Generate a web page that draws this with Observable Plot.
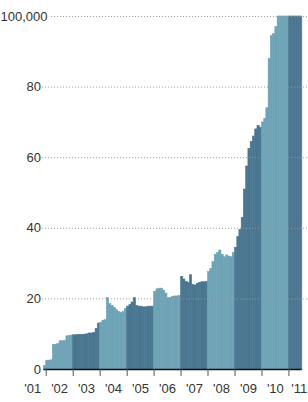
<!DOCTYPE html>
<html>
<head>
<meta charset="utf-8">
<script src="https://cdn.jsdelivr.net/npm/d3@7"></script>
<script src="https://cdn.jsdelivr.net/npm/@observablehq/plot@0.6"></script>
<style>
  html, body { margin: 0; padding: 0; background: #fff; }
  #chart svg { display: block; }
</style>
</head>
<body>
<div id="chart"></div>
<script>
// Monthly troop levels (thousands), starting December 2001
const firstMonth = "2001-12";
const troops2001 = [1.0];
const troops2002 = [2.5, 2.5, 2.6, 7.0, 7.0, 7.2, 8.0, 8.0, 8.1, 9.4, 9.5, 9.6];
const troops2003 = [9.7, 9.7, 9.8, 9.8, 9.8, 9.9, 10.0, 10.2, 10.2, 10.4, 11.5, 13.0];
const troops2004 = [13.2, 13.8, 14.0, 20.2, 18.5, 18.0, 17.5, 16.8, 16.3, 16.0, 16.3, 17.2];
const troops2005 = [17.8, 18.3, 19.0, 20.2, 18.0, 17.8, 17.8, 17.6, 17.6, 17.8, 17.8, 17.8];
const troops2006 = [22.0, 22.7, 22.9, 22.9, 22.3, 21.5, 20.2, 20.3, 20.6, 20.7, 20.7, 20.8];
const troops2007 = [26.2, 25.5, 24.8, 24.5, 26.7, 24.0, 23.8, 24.3, 24.5, 24.7, 24.7, 24.8];
const troops2008 = [27.6, 28.5, 30.4, 32.5, 33.0, 33.7, 32.5, 31.8, 32.3, 32.0, 31.8, 33.0];
const troops2009 = [34.5, 37.5, 39.5, 43.0, 51.0, 57.5, 62.5, 64.5, 66.0, 68.0, 69.0, 68.5];
const troops2010 = [70.0, 71.0, 74.0, 88.0, 94.5, 95.0, 97.0, 100, 100, 100, 100, 100];
const troops2011 = [100, 100, 100, 100, 100, 100];

const yTickValues = [0, 20, 40, 60, 80, 100];
const yTickLabels = ["0", "20", "40", "60", "80", "100,000"];
const yearStarts = [2002, 2003, 2004, 2005, 2006, 2007, 2008, 2009, 2010, 2011];
const yearLabelYears = [2001, 2002, 2003, 2004, 2005, 2006, 2007, 2008, 2009, 2010];
const yearLabels = ["'01", "'02", "'03", "'04", "'05", "'06", "'07", "'08", "'09", "'10"];
const lastYearLabel = ["'11"];

const lightBlue = "#6ea3b6";
const darkBlue = "#4a7690";

const values = [].concat(troops2001, troops2002, troops2003, troops2004, troops2005,
  troops2006, troops2007, troops2008, troops2009, troops2010, troops2011);
const start = d3.utcParse("%Y-%m")(firstMonth);
const data = values.map((v, i) => {
  const date = d3.utcMonth.offset(start, i);
  return {date, end: d3.utcMonth.offset(date, 1), value: v, year: date.getUTCFullYear()};
});
const dataEnd = data[data.length - 1].end;
const barColor = d => (d.year % 2 === 0 || d.year === 2001) ? lightBlue : darkBlue;

const chart = Plot.plot({
  width: 308,
  height: 402,
  marginLeft: 43.45,
  marginRight: 6.2,
  marginTop: 16,
  marginBottom: 33,
  x: {type: "utc", domain: [start, dataEnd], axis: null},
  y: {domain: [0, 100], axis: null},
  style: {fontFamily: "'Liberation Sans', Arial, Helvetica, sans-serif", fontSize: "13px", overflow: "visible", background: "#fff"},
  marks: [
    Plot.rectY(data, {
      x1: "date", x2: "end", y: "value",
      fill: barColor,
      stroke: barColor,
      strokeWidth: 0.6
    }),
    Plot.ruleY(yTickValues.filter(v => v > 0), {
      y: d => d,
      x1: d3.utcDay.offset(start, -18),
      x2: d3.utcMonth.offset(dataEnd, 4),
      stroke: "#9a9a9a",
      strokeWidth: 1,
      strokeDasharray: "1,2"
    }),
    Plot.ruleY([0], {x1: start, x2: dataEnd, stroke: "#111", strokeWidth: 1.5}),
    Plot.ruleX(yearStarts, {
      x: d => new Date(Date.UTC(d, 0, 1)),
      y1: 0, y2: 0,
      insetBottom: -7,
      stroke: "#555",
      strokeWidth: 1
    }),
    Plot.text(yTickValues.slice(0, 5), {
      y: d => d,
      text: (d, i) => yTickLabels[i],
      frameAnchor: "left",
      textAnchor: "end",
      dx: -3,
      fill: "#333"
    }),
    Plot.text(yTickValues.slice(5), {
      y: d => d,
      text: (d, i) => yTickLabels[5 + i],
      frameAnchor: "left",
      textAnchor: "end",
      dx: 3.5,
      fill: "#333",
      stroke: "white",
      strokeWidth: 4,
      paintOrder: "stroke"
    }),
    Plot.text(yearLabelYears, {
      x: d => new Date(Date.UTC(d, 6, 1)),
      y: 0,
      text: (d, i) => yearLabels[i],
      dy: 19,
      fill: "#333"
    }),
    Plot.text(lastYearLabel, {
      frameAnchor: "right",
      y: 0,
      text: d => d,
      textAnchor: "end",
      dx: 5,
      dy: 19,
      fill: "#333"
    })
  ]
});
document.getElementById("chart").appendChild(chart);
</script>
</body>
</html>
